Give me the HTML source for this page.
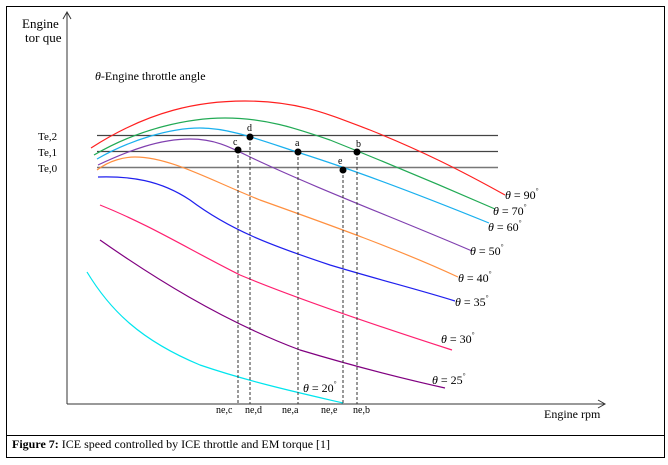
<!DOCTYPE html>
<html><head><meta charset="utf-8"><style>
html,body{margin:0;padding:0;background:#fff;width:668px;height:465px;overflow:hidden}
text{font-family:"Liberation Serif",serif;fill:#000}
</style></head><body>
<svg width="668" height="465" viewBox="0 0 668 465" xmlns="http://www.w3.org/2000/svg">
<rect x="6.5" y="6.5" width="658" height="451" fill="none" stroke="#000" stroke-width="1"/>
<line x1="6" y1="435.5" x2="665" y2="435.5" stroke="#000"/>
<!-- axes -->
<line x1="67" y1="12" x2="67" y2="404" stroke="#333"/>
<path d="M63,19 L67,12 L71,19" fill="none" stroke="#333"/>
<line x1="67" y1="404" x2="605" y2="404" stroke="#333"/>
<path d="M598,400 L605,404 L598,408" fill="none" stroke="#333"/>
<text x="22" y="28" font-size="13">Engine</text>
<text x="25" y="42" font-size="13">tor que</text>
<text x="95" y="80" font-size="12"><tspan font-style="italic">θ</tspan>-Engine throttle angle</text>
<text x="544" y="418" font-size="12">Engine rpm</text>
<!-- Te lines -->
<line x1="97" y1="135.5" x2="498" y2="135.5" stroke="#444" stroke-width="1.3"/>
<line x1="97" y1="151.5" x2="498" y2="151.5" stroke="#444" stroke-width="1.3"/>
<line x1="97" y1="167.5" x2="498" y2="167.5" stroke="#777" stroke-width="1.6"/>
<text x="38" y="140" font-size="11">Te,2</text>
<text x="38" y="156" font-size="11">Te,1</text>
<text x="38" y="172" font-size="11">Te,0</text>
<!-- curves -->
<g fill="none" stroke-width="1.2">
<path d="M91,148 C150,110 200,101 245,101 C300,101 330,115 370,130 C420,150 460,170 505,195" stroke="#ff2020"/>
<path d="M94,155 C140,128 190,118 225,118 C265,118 295,128 330,140 C380,160 440,185 495,209" stroke="#22aa55"/>
<path d="M97,159 C130,140 170,128 200,128 C230,128 260,140 300,153 C360,172 420,195 489,223" stroke="#1ab0ee"/>
<path d="M98,165 C130,150 160,139 190,139 C215,139 230,147 250,157 C320,190 400,220 472,251" stroke="#8040b0"/>
<path d="M97,170 C110,160 125,157 135,157 C170,157 210,180 260,200 C330,225 400,250 458,277" stroke="#ff9040"/>
<path d="M98,177 C130,176 160,180 190,200 C230,230 270,245 330,265 C380,280 420,290 455,301" stroke="#2020ee"/>
<path d="M100,205 C150,225 190,250 240,275 C300,300 390,330 452,350" stroke="#ff2070"/>
<path d="M100,240 C150,275 220,320 300,350 C350,365 400,378 445,388" stroke="#800080"/>
<path d="M87,272 C110,310 140,340 200,365 C250,382 300,393 343,403" stroke="#00e5ee"/>
</g>
<!-- dashed verticals -->
<g stroke="#333" stroke-dasharray="3,2" stroke-width="1">
<line x1="238" y1="150" x2="238" y2="404"/>
<line x1="250" y1="137" x2="250" y2="404"/>
<line x1="298" y1="152" x2="298" y2="404"/>
<line x1="343" y1="170" x2="343" y2="404"/>
<line x1="357" y1="152" x2="357" y2="404"/>
</g>
<g fill="#000">
<circle cx="238" cy="150" r="3.5"/><circle cx="250" cy="137" r="3.5"/>
<circle cx="298" cy="152" r="3.5"/><circle cx="343" cy="170" r="3.5"/>
<circle cx="357" cy="152" r="3.5"/>
</g>
<g font-size="10">
<text x="233" y="145">c</text><text x="247" y="131">d</text>
<text x="295" y="146">a</text><text x="338" y="164">e</text><text x="356" y="147">b</text>
<text x="216" y="413">ne,c</text><text x="245" y="413">ne,d</text>
<text x="282" y="413">ne,a</text><text x="321" y="413">ne,e</text><text x="353" y="413">ne,b</text>
</g>
<g font-size="12">
<text x="505" y="199"><tspan font-style="italic">θ</tspan> = 90<tspan font-size="7" dy="-6">°</tspan></text>
<text x="493" y="215"><tspan font-style="italic">θ</tspan> = 70<tspan font-size="7" dy="-6">°</tspan></text>
<text x="488" y="231"><tspan font-style="italic">θ</tspan> = 60<tspan font-size="7" dy="-6">°</tspan></text>
<text x="470" y="255"><tspan font-style="italic">θ</tspan> = 50<tspan font-size="7" dy="-6">°</tspan></text>
<text x="458" y="282"><tspan font-style="italic">θ</tspan> = 40<tspan font-size="7" dy="-6">°</tspan></text>
<text x="455" y="306"><tspan font-style="italic">θ</tspan> = 35<tspan font-size="7" dy="-6">°</tspan></text>
<text x="441" y="343"><tspan font-style="italic">θ</tspan> = 30<tspan font-size="7" dy="-6">°</tspan></text>
<text x="432" y="384"><tspan font-style="italic">θ</tspan> = 25<tspan font-size="7" dy="-6">°</tspan></text>
<text x="303" y="392"><tspan font-style="italic">θ</tspan> = 20<tspan font-size="7" dy="-6">°</tspan></text>
</g>
<text x="12" y="448" font-size="12"><tspan font-weight="bold">Figure 7:</tspan> ICE speed controlled by ICE throttle and EM torque [1]</text>
</svg>
</body></html>
